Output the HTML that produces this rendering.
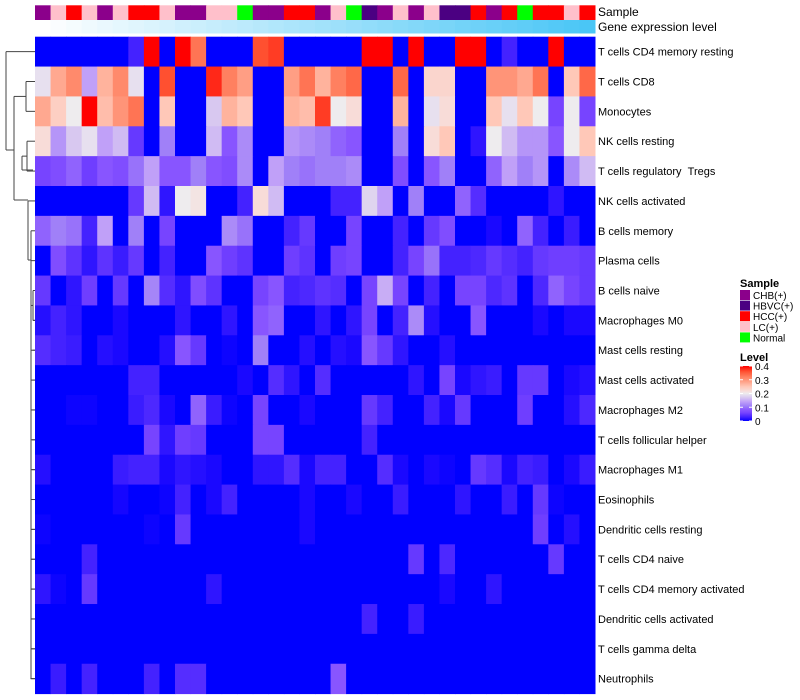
<!DOCTYPE html>
<html><head><meta charset="utf-8">
<style>
body{margin:0;background:#fff;font-family:"Liberation Sans",sans-serif;}
#wrap{position:relative;width:800px;height:700px;overflow:hidden;}
svg text{font-family:"Liberation Sans",sans-serif;white-space:pre;}
</style></head>
<body>
<div id="wrap">
<svg id="chart" width="800" height="700">
  <g id="dendro" stroke="#444" stroke-width="1" fill="none"></g>
  <g id="annot"></g>
  <g id="cells"></g>
  <g id="rowlabels" font-size="11" fill="#000"></g>
  <text x="598" y="16" font-size="12">Sample</text>
  <text x="598" y="31" font-size="12">Gene expression level</text>
  <g id="legend"></g>
</svg>
</div>
<script>
const rowNames = ["T cells CD4 memory resting","T cells CD8","Monocytes","NK cells resting","T cells regulatory\u00a0\u00a0Tregs","NK cells activated","B cells memory","Plasma cells","B cells naive","Macrophages M0","Mast cells resting","Mast cells activated","Macrophages M2","T cells follicular helper","Macrophages M1","Eosinophils","Dendritic cells resting","T cells CD4 naive","T cells CD4 memory activated","Dendritic cells activated","T cells gamma delta","Neutrophils"];
const sampleGroups = ["CHB(+)","LC(+)","HCC(+)","LC(+)","CHB(+)","LC(+)","HCC(+)","HCC(+)","LC(+)","CHB(+)","CHB(+)","LC(+)","LC(+)","Normal","CHB(+)","CHB(+)","HCC(+)","HCC(+)","CHB(+)","LC(+)","Normal","HBVC(+)","CHB(+)","LC(+)","CHB(+)","LC(+)","HBVC(+)","HBVC(+)","HCC(+)","CHB(+)","HCC(+)","Normal","HCC(+)","HCC(+)","LC(+)","HCC(+)"];
const legendGroups = ["CHB(+)","HBVC(+)","HCC(+)","LC(+)","Normal"];
const legendTicks = [0.4,0.3,0.2,0.1,0];
const values = [
[0,0,0,0,0,0,0.03,0.4,0,0.4,0.33,0,0,0,0.36,0.37,0,0,0,0,0,0.4,0.4,0,0.4,0,0,0.4,0.4,0,0.03,0,0,0.4,0,0],
[0.19,0.28,0.31,0.14,0.27,0.31,0.19,0,0.36,0,0,0.38,0.32,0.29,0,0,0.29,0.33,0.27,0.32,0.34,0,0,0.34,0,0.23,0.23,0,0,0.3,0.3,0.28,0.33,0,0.25,0.34],
[0.28,0.24,0.2,0.4,0.26,0.3,0.33,0,0.25,0,0,0.17,0.27,0.25,0,0,0.27,0.26,0.37,0.2,0.22,0,0,0.27,0,0.19,0.22,0,0,0.25,0.19,0.25,0.2,0.06,0.2,0.06],
[0.22,0.13,0.17,0.19,0.14,0.16,0.05,0,0.11,0,0,0.16,0.08,0.12,0,0,0.13,0.12,0.11,0.09,0.08,0,0,0.11,0,0.22,0.25,0,0.02,0.2,0.16,0.13,0.13,0.08,0.2,0.25],
[0.06,0.07,0.09,0.055,0.08,0.07,0.1,0.14,0.08,0.08,0.11,0.08,0.07,0.12,0,0.14,0.11,0.1,0.11,0.11,0.12,0,0,0.07,0,0.08,0.11,0,0,0.09,0.14,0.11,0.13,0,0.12,0.16],
[0,0,0,0,0,0,0.05,0.16,0.02,0.2,0.21,0,0,0.03,0.22,0.16,0,0,0,0.03,0.03,0.18,0.14,0,0.11,0,0,0.09,0.04,0,0,0,0,0.02,0,0],
[0.09,0.11,0.1,0.03,0.14,0,0.11,0,0.06,0,0,0,0.12,0.1,0,0,0.03,0.05,0,0,0.06,0,0,0.03,0,0.05,0.07,0,0,0.01,0,0.09,0.03,0,0.025,0],
[0,0.07,0.045,0.02,0.045,0.025,0.05,0,0.03,0,0,0.08,0.055,0.045,0,0,0.055,0.045,0,0.055,0.06,0,0,0.03,0.06,0.1,0.03,0.03,0.035,0.05,0.04,0.03,0.05,0.055,0.055,0.05],
[0.05,0,0.02,0.055,0,0.05,0,0.115,0.04,0.02,0.07,0.045,0,0,0.06,0.08,0.03,0.035,0.045,0.04,0,0.06,0.15,0.06,0,0.03,0,0.06,0.06,0.035,0.045,0,0.035,0.09,0.06,0.05],
[0.015,0.03,0.02,0,0,0.01,0,0,0,0.02,0,0,0.02,0,0.08,0.09,0,0,0.02,0,0.02,0.06,0,0.03,0.12,0.015,0,0,0.08,0,0,0,0.01,0,0.01,0.01],
[0.04,0.03,0.025,0,0.015,0.01,0,0,0.015,0.08,0.05,0,0.005,0,0.11,0,0,0.015,0,0.015,0.01,0.08,0.05,0.02,0,0,0.015,0,0,0,0,0,0,0,0,0],
[0,0,0,0,0,0,0.03,0.03,0,0,0,0,0,0.01,0,0.04,0.02,0,0.04,0,0,0,0,0,0.02,0,0.06,0.01,0.02,0.025,0,0.05,0.05,0,0.01,0.015],
[0,0,0.005,0.005,0,0,0.025,0.035,0.01,0,0.09,0.025,0.005,0,0.06,0,0,0.01,0,0,0,0.05,0.03,0,0,0.03,0.01,0.05,0,0,0,0.055,0,0,0.015,0.035],
[0,0,0,0,0,0,0,0.06,0.02,0.055,0.05,0,0,0,0.06,0.06,0,0,0,0,0,0.03,0,0,0,0,0,0,0,0,0,0,0,0,0,0],
[0.015,0,0,0,0,0.025,0.03,0.03,0.01,0.02,0.015,0.01,0,0,0.02,0.02,0.04,0.01,0.03,0.03,0,0,0.04,0.01,0,0.01,0.005,0,0.05,0.04,0.01,0.03,0.025,0,0.01,0.025],
[0,0,0,0,0,0.008,0,0,0.005,0.03,0,0.01,0.03,0,0,0,0,0.01,0,0,0.01,0,0,0.025,0,0,0,0.02,0,0,0.025,0,0.05,0.005,0,0],
[0.005,0,0,0,0,0,0,0.005,0,0.05,0,0,0,0,0,0,0,0.01,0,0,0,0,0,0,0,0,0,0,0,0,0,0,0.055,0,0.015,0],
[0,0,0,0.03,0,0,0,0,0,0,0,0,0,0,0,0,0,0,0,0,0,0,0,0,0.05,0,0.035,0,0,0,0,0,0,0.05,0,0],
[0.02,0.005,0,0.05,0,0,0,0,0,0,0,0.02,0,0,0,0,0,0,0,0,0,0,0,0,0,0,0.01,0,0,0.02,0,0,0,0,0,0],
[0,0,0,0,0,0,0,0,0,0,0,0,0,0,0,0,0,0,0,0,0,0.03,0,0,0.025,0,0,0,0,0,0,0,0,0,0,0],
[0,0,0,0,0,0,0,0,0,0,0,0,0,0,0,0,0,0,0,0,0,0,0,0,0,0,0,0,0,0,0,0,0,0,0,0],
[0,0.025,0,0.03,0,0,0,0.03,0,0.04,0.04,0,0,0,0,0,0,0,0,0.08,0,0,0,0,0,0,0,0,0,0,0,0,0,0,0,0]
];
const groupColors = {"CHB(+)":"#8b008b","HBVC(+)":"#4b0082","HCC(+)":"#ff0000","LC(+)":"#ffc0cb","Normal":"#00ff00"};
const stops=[[0,0,0,255],[0.01,26,8,255],[0.03,68,34,255],[0.06,119,68,255],[0.08,136,85,255],[0.11,160,128,248],[0.14,192,160,248],[0.17,216,200,240],[0.2,238,236,238],[0.22,248,220,216],[0.25,255,200,184],[0.28,255,168,144],[0.32,255,128,96],[0.36,255,80,48],[0.4,255,0,0]];
function colorOf(v){
  v=Math.max(0,Math.min(0.4,v));
  for(let i=1;i<stops.length;i++){
    if(v<=stops[i][0]){const a=stops[i-1],b=stops[i];const t=(v-a[0])/(b[0]-a[0]);
      return "rgb("+[1,2,3].map(k=>Math.round(a[k]+(b[k]-a[k])*t)).join(",")+")";}
  }
  return "rgb(255,0,0)";
}
const NS="http://www.w3.org/2000/svg";
const X0=35,X1=595,Y0=36.7,Y1=693.6;
const nCol=values[0].length,nRow=values.length;
const cw=(X1-X0)/nCol,rh=(Y1-Y0)/nRow;
const xPos=c=>X0+c*cw, yPos=r=>Y0+r*rh;
function mk(tag,attrs,parent){const e=document.createElementNS(NS,tag);for(const k in attrs)e.setAttribute(k,attrs[k]);parent.appendChild(e);return e;}
const cells=document.getElementById('cells');
values.forEach((row,r)=>row.forEach((v,c)=>{
  const e=mk('rect',{x:xPos(c),y:yPos(r),width:cw+0.5,height:rh+0.5,fill:colorOf(v)},cells);
  
  
}));
const annot=document.getElementById('annot');
sampleGroups.forEach((g,c)=>{
  const e=mk('rect',{x:xPos(c),y:5.3,width:cw+0.5,height:14.7,fill:groupColors[g]},annot);
  
  
  const t=c/(nCol-1);
  const col="rgb("+Math.round(255-(255-74)*t)+","+Math.round(255-(255-198)*t)+","+Math.round(255-(255-246)*t)+")";
  const e2=mk('rect',{x:xPos(c),y:20,width:cw+0.5,height:13.5,fill:col},annot);
  
  
});
const rl=document.getElementById('rowlabels');
rowNames.forEach((n,r)=>{
  const e=mk('text',{x:598,y:yPos(r)+rh/2+4},rl);e.textContent=n;
  
  
});
const d=document.getElementById('dendro');
const yc=r=>yPos(r)+rh/2;
function seg(x1,y1,x2,y2){mk('line',{x1,y1,x2,y2},d);}
function join(x,ya,yb,xa,xb){seg(x,ya,x,yb);seg(x,ya,xa,ya);seg(x,yb,xb,yb);}
join(26,yc(1),yc(2),35,35);
join(27,yc(3),yc(4),35,35);
join(22,(yc(3)+yc(4))/2,170,27,33);
join(14,(yc(1)+yc(2))/2,200,26,22);
join(6,yc(0),150,35,14);
seg(22,170,33,170);
join(31,yc(6),yc(7),35,35);
join(28,yc(5),260,35,31);
seg(22,200,28,200);
for(let r=8;r<nRow;r++){const x=Math.max(30,33-(r-8)*0.2);seg(x,yc(r),35,yc(r));}
join(33,yc(8),yc(9),35,35);
seg(31,260,31,yc(21));
seg(31,(yc(8)+yc(9))/2,33,(yc(8)+yc(9))/2);
for(let r=10;r<nRow;r++){seg(31,yc(r),33,yc(r));seg(33,yc(r),35,yc(r));}
const lg=document.getElementById('legend');
const t1=mk('text',{x:740,y:287,'font-size':'11','font-weight':'bold'},lg);t1.textContent='Sample';

legendGroups.forEach((g,i)=>{
  const y=290+i*10.6;
  const r=mk('rect',{x:740,y:y,width:10,height:10,fill:groupColors[g]},lg);
  
  const t=mk('text',{x:753,y:y+9,'font-size':'10'},lg);t.textContent=g;
  
});
const t2=mk('text',{x:740,y:361,'font-size':'11','font-weight':'bold'},lg);t2.textContent='Level';

const defs=mk('defs',{},lg);const gr=mk('linearGradient',{id:'lvl',x1:0,y1:1,x2:0,y2:0},defs);
stops.forEach(s=>mk('stop',{offset:s[0]/0.4,'stop-color':'rgb('+s[1]+','+s[2]+','+s[3]+')'},gr));
const bar=mk('rect',{x:740,y:366,width:12,height:55,fill:'url(#lvl)'},lg);

legendTicks.forEach(v=>{
  const y=366+55*(1-v/0.4);
  mk('line',{x1:740,y1:y,x2:743,y2:y,stroke:'#fff'},lg);
  mk('line',{x1:749,y1:y,x2:752,y2:y,stroke:'#fff'},lg);
  const t=mk('text',{x:755,y:y+4,'font-size':'10'},lg);t.textContent=String(v);
  
});
</script>
</body></html>
